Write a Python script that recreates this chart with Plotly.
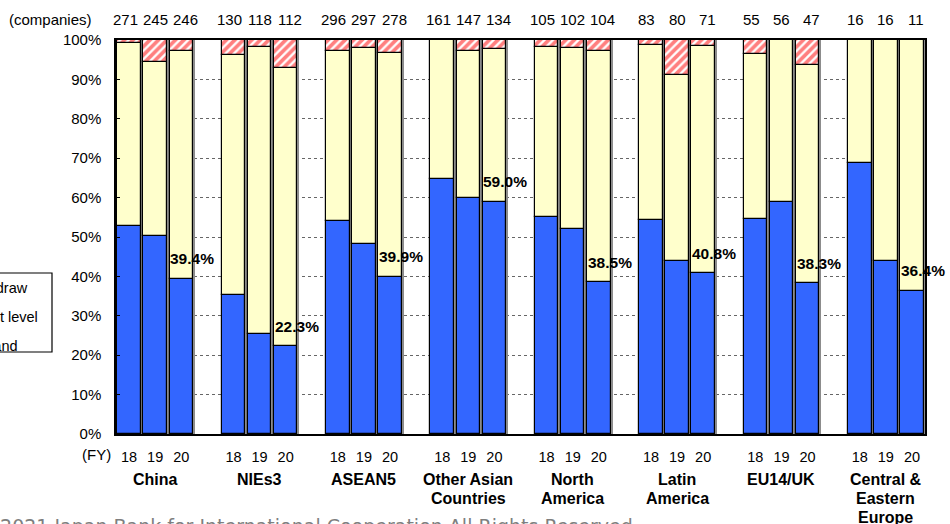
import plotly.graph_objects as go

# Survey regions and fiscal years
regions = ["China", "NIEs3", "ASEAN5", "Other Asian<br>Countries", "North<br>America",
           "Latin<br>America", "EU14/UK", "Central &<br>Eastern<br>Europe"]
years = ["18", "19", "20"]

# Number of responding companies (FY18, FY19, FY20 per region)
companies = [271, 245, 246, 130, 118, 112, 296, 297, 278, 161, 147, 134,
             105, 102, 104, 83, 80, 71, 55, 56, 47, 16, 16, 11]

# Share of companies by outlook (%)
expand = [52.8, 50.2, 39.4, 35.4, 25.4, 22.3, 54.1, 48.1, 39.9, 64.6, 59.9, 59.0,
          55.2, 52.0, 38.5, 54.2, 43.8, 40.8, 54.5, 58.9, 38.3, 68.8, 43.8, 36.4]
downsize = [0.7, 5.7, 2.8, 3.8, 1.7, 7.1, 2.7, 2.0, 3.2, 0.0, 2.7, 2.2,
            1.9, 2.0, 2.9, 1.2, 8.8, 1.4, 3.6, 0.0, 6.4, 0.0, 0.0, 0.0]
maintain = [round(100 - e - d, 1) for e, d in zip(expand, downsize)]

legend_labels = ["Scale back/withdraw", "Maintain current level", "Strengthen/expand"]

BLUE = "#3366FF"
YELLOW = "#FFFFCC"
RED = "#FF0000"
FONT = "Liberation Sans, Arial, sans-serif"

# x positions: 3 bars per region, one empty slot between regions
xpos = [g * 4 + j for g in range(len(regions)) for j in range(len(years))]
BW = 0.9
plot_l, plot_r, plot_t, plot_b = 116, 925, 40, 434
pw, ph = plot_r - plot_l, plot_b - plot_t

fig = go.Figure()

# grey drop shadow to the right of every bar
totals = [round(e + m + d, 1) for e, m, d in zip(expand, maintain, downsize)]
fig.add_trace(go.Bar(x=xpos, y=totals, width=BW, offset=-BW / 2 + 0.08,
                     marker=dict(color="#8c8c8c", line=dict(width=0)),
                     hoverinfo="skip", showlegend=False))

line = dict(color="black", width=1.2)
fig.add_trace(go.Bar(x=xpos, y=expand, base=[0] * len(expand), width=BW, name=legend_labels[2],
                     marker=dict(color=BLUE, line=line), showlegend=False))
fig.add_trace(go.Bar(x=xpos, y=maintain, base=expand, width=BW, name=legend_labels[1],
                     marker=dict(color=YELLOW, line=line), showlegend=False))
fig.add_trace(go.Bar(x=xpos, y=downsize,
                     base=[e + m for e, m in zip(expand, maintain)], width=BW,
                     name=legend_labels[0],
                     marker=dict(color="white", line=line,
                                 pattern=dict(shape="/", fgcolor=RED, bgcolor="white",
                                              size=6, solidity=0.62)),
                     showlegend=False))

annotations = []

# company counts above each bar
annotations.append(dict(x=(94 - plot_l) / pw, y=1, xref="paper", yref="paper",
                        text="(companies)", showarrow=False, xanchor="right",
                        yanchor="middle", yshift=21, font=dict(size=15, color="black")))
for i, (x, n) in enumerate(zip(xpos, companies)):
    annotations.append(dict(x=x, y=1, xref="x", yref="paper", text=str(n), showarrow=False,
                            xanchor="center", yanchor="middle", yshift=21,
                            xshift=((i % 3) - 1) * 4, font=dict(size=15, color="black")))

annotations.append(dict(x=(113 - plot_l) / pw, y=(plot_b - 454) / ph, xref="paper",
                        yref="paper", text="(FY)", showarrow=False, xanchor="right",
                        yanchor="middle", font=dict(size=15, color="black")))

# region names under each group, one annotation per line for tight spacing
for g, name in enumerate(regions):
    for k, part in enumerate(name.split("<br>")):
        annotations.append(dict(x=g * 4 + 1, y=(plot_b - 479 - 19 * k) / ph, xref="x",
                                yref="paper", text="<b>%s</b>" % part, showarrow=False,
                                xanchor="center", yanchor="middle",
                                font=dict(size=16, color="black")))

# FY20 "expand" share labelled on each group's last bar
for g in range(len(regions)):
    i = g * 3 + 2
    annotations.append(dict(x=xpos[i] - BW / 2 - 0.05, y=expand[i], xref="x", yref="y",
                            text="<b>%.1f%%</b>" % expand[i], showarrow=False,
                            xanchor="left", yanchor="middle", yshift=20,
                            font=dict(size=15.5, color="black")))

# legend box at the left edge (labels end-aligned inside the box)
leg_rows = [288, 317, 346]
leg_ends = [30, 40, 20]
for label, py, ex in zip(legend_labels, leg_rows, leg_ends):
    annotations.append(dict(x=(ex - plot_l) / pw, y=(plot_b - py) / ph, xref="paper",
                            yref="paper", text=label, showarrow=False, xanchor="right",
                            yanchor="middle", font=dict(size=14.5, color="black")))

# footer
annotations.append(dict(x=(641 - plot_l) / pw, y=(plot_b - 513) / ph, xref="paper",
                        yref="paper",
                        text="© 2021 Japan Bank for International Cooperation All Rights Reserved.",
                        showarrow=False, xanchor="right", yanchor="top",
                        font=dict(size=19, color="#7f7f7f",
                                  family="DejaVu Sans, Verdana, sans-serif")))

shapes = [dict(type="rect", xref="paper", yref="paper",
               x0=(-160 - plot_l) / pw, x1=(52 - plot_l) / pw,
               y0=(plot_b - 352) / ph, y1=(plot_b - 273) / ph,
               line=dict(color="black", width=1.2), fillcolor="white", layer="below")]

fig.update_layout(
    width=950, height=524,
    margin=dict(l=plot_l, r=950 - plot_r, t=plot_t, b=524 - plot_b, pad=0),
    paper_bgcolor="white", plot_bgcolor="white",
    barmode="overlay", bargap=0,
    font=dict(family=FONT, size=15, color="black"),
    annotations=annotations, shapes=shapes,
    showlegend=False,
)
fig.update_xaxes(range=[-0.5, len(xpos) + len(regions) - 1 - 0.5],
                 tickmode="array", tickvals=xpos, ticktext=years * len(regions),
                 tickfont=dict(size=14.5), ticks="", ticklabelstandoff=9,
                 showgrid=False, zeroline=False,
                 showline=True, linecolor="black", linewidth=1.5, mirror=True)
fig.update_yaxes(range=[0, 100], dtick=10, ticksuffix="%", tickfont=dict(size=15),
                 ticks="inside", ticklen=4, tickcolor="black", ticklabelstandoff=10,
                 showgrid=True, gridcolor="#666666", gridwidth=1, griddash="dot",
                 zeroline=False, showline=True, linecolor="black", linewidth=1.5,
                 mirror=True)

fig.write_html("out.html")
